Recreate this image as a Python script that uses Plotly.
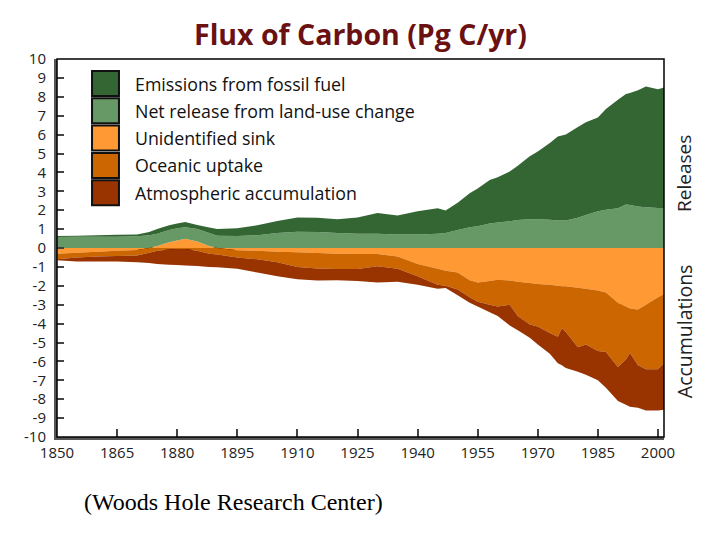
"""
flux of carbon stacked area chart
"""
import numpy as np
from plotly import graph_objects as go

years = [1850, 1855, 1860, 1865, 1870, 1873, 1875, 1878, 1880, 1882,
         1885, 1888, 1890, 1895, 1900, 1905, 1910, 1915, 1920, 1925,
         1930, 1935, 1940, 1945, 1947, 1950, 1953, 1955, 1958, 1960,
         1963, 1965, 1968, 1970, 1973, 1975, 1976, 1977, 1980, 1982,
         1985, 1987, 1990, 1992, 1993, 1995, 1997, 2000, 2002]

# releases (Pg C/yr)
fossil = [0.05, 0.05, 0.08, 0.1, 0.1, 0.17, 0.25, 0.25, 0.25, 0.28,
          0.22, 0.28, 0.35, 0.41, 0.52, 0.63, 0.76, 0.75, 0.72, 0.86,
          1.09, 1.0, 1.23, 1.35, 1.18, 1.45, 1.8, 2.0, 2.3, 2.4,
          2.63, 2.87, 3.33, 3.58, 4.05, 4.45, 4.5, 4.55, 4.8, 4.9,
          4.95, 5.33, 5.75, 5.85, 5.92, 6.15, 6.4, 6.28, 6.4]
land_use = [0.58, 0.6, 0.6, 0.6, 0.62, 0.68, 0.65, 0.65, 0.65, 0.61,
            0.65, 0.7, 0.65, 0.63, 0.68, 0.8, 0.86, 0.85, 0.8, 0.76,
            0.76, 0.72, 0.72, 0.75, 0.8, 0.95, 1.1, 1.15, 1.3, 1.35,
            1.42, 1.48, 1.52, 1.52, 1.5, 1.45, 1.45, 1.45, 1.6, 1.75,
            1.95, 2.02, 2.1, 2.3, 2.28, 2.2, 2.15, 2.12, 2.12]

# accumulations (negative = uptake)
unidentified = [-0.3, -0.25, -0.2, -0.15, -0.1, 0.0, 0.1, 0.3, 0.4, 0.49,
                0.35, 0.1, 0.0, -0.12, -0.15, -0.2, -0.23, -0.27, -0.3, -0.32,
                -0.32, -0.45, -0.85, -1.1, -1.2, -1.3, -1.7, -1.82, -1.75, -1.68,
                -1.72, -1.78, -1.85, -1.9, -1.95, -2.0, -2.02, -2.03, -2.1, -2.15,
                -2.25, -2.36, -2.9, -3.1, -3.2, -3.25, -3.0, -2.6, -2.4]
ocean = [-0.3, -0.25, -0.25, -0.27, -0.3, -0.25, -0.15, -0.08, -0.05, -0.05,
         -0.15, -0.3, -0.35, -0.38, -0.45, -0.55, -0.77, -0.81, -0.81, -0.79,
         -0.65, -0.65, -0.65, -0.85, -0.8, -0.9, -0.9, -1.03, -1.25, -1.42,
         -1.28, -1.82, -2.2, -2.25, -2.55, -2.7, -2.23, -2.42, -3.15, -2.95,
         -3.2, -3.14, -3.4, -2.8, -2.35, -2.95, -3.42, -3.82, -3.58]
atmosphere = [-0.05, -0.22, -0.27, -0.3, -0.35, -0.55, -0.7, -0.8, -0.85, -0.87,
              -0.8, -0.7, -0.67, -0.6, -0.7, -0.75, -0.66, -0.64, -0.59, -0.63,
              -0.85, -0.68, -0.45, -0.2, -0.12, -0.3, -0.3, -0.25, -0.4, -0.5,
              -1.1, -0.75, -0.7, -0.95, -1.1, -1.4, -1.95, -1.9, -1.3, -1.6,
              -1.55, -1.9, -1.8, -2.4, -2.85, -2.25, -2.18, -2.18, -2.56]

legend_names = ["Emissions from fossil fuel", "Net release from land-use change",
                "Unidentified sink", "Oceanic uptake", "Atmospheric accumulation"]
colors = ["#336633", "#669966", "#ff9933", "#cc6600", "#993300"]

x_ticks = list(range(1850, 2001, 15))
y_ticks = list(range(-10, 11))
y_tick_labels = [str(v) for v in y_ticks]

unid = np.array(unidentified)
unid_pos = np.clip(unid, 0, None)   # the sink turns into a small source around 1880
unid_neg = np.clip(unid, None, 0)

fig = go.Figure()
# positive side
fig.add_trace(go.Scatter(x=years, y=unid_pos, stackgroup="pos", line=dict(width=0),
                         fillcolor=colors[2], mode="none", name=legend_names[2]))
fig.add_trace(go.Scatter(x=years, y=land_use, stackgroup="pos", line=dict(width=0),
                         fillcolor=colors[1], mode="none", name=legend_names[1]))
fig.add_trace(go.Scatter(x=years, y=fossil, stackgroup="pos", line=dict(width=0),
                         fillcolor=colors[0], mode="none", name=legend_names[0]))
# negative side
fig.add_trace(go.Scatter(x=years, y=unid_neg, stackgroup="neg", line=dict(width=0),
                         fillcolor=colors[2], mode="none", name=legend_names[2]))
fig.add_trace(go.Scatter(x=years, y=ocean, stackgroup="neg", line=dict(width=0),
                         fillcolor=colors[3], mode="none", name=legend_names[3]))
fig.add_trace(go.Scatter(x=years, y=atmosphere, stackgroup="neg", line=dict(width=0),
                         fillcolor=colors[4], mode="none", name=legend_names[4]))

# page body has an 8px margin, so the figure is a bit smaller than the window
fig.update_layout(width=712, height=532, showlegend=False,
                  margin=dict(l=49, r=56, t=51, b=103),
                  plot_bgcolor="white", paper_bgcolor="white",
                  font=dict(family="Open Sans", size=15, color="#222222"))

fig.update_xaxes(range=[1850, 2001.5], tickvals=x_ticks, ticks="inside", ticklen=8,
                 tickwidth=2, tickcolor="#444444", showline=True, linewidth=3,
                 linecolor="#555555", showgrid=False, zeroline=False,
                 layer="above traces", tickfont=dict(size=15, color="#222222"))
fig.update_yaxes(range=[-10, 10], tickvals=y_ticks, ticktext=y_tick_labels,
                 ticks="inside", ticklen=7, tickwidth=2, tickcolor="#444444",
                 showline=True, linewidth=3, linecolor="#555555", showgrid=False,
                 zeroline=True, zerolinecolor="black", zerolinewidth=2.5,
                 layer="above traces", ticklabelstandoff=5,
                 tickfont=dict(size=15, color="#222222"))

# thin frame on top and right
fig.add_shape(type="rect", xref="paper", yref="paper", x0=0, x1=1, y0=0, y1=1,
              line=dict(color="black", width=1.5), layer="above")

# hand-made legend with big boxes
for i, (name, col) in enumerate(zip(legend_names, colors)):
    top = 71 + 27.3 * i
    y0 = (437 - (top + 25)) / 378
    y1 = (437 - top) / 378
    fig.add_shape(type="rect", xref="paper", yref="paper", x0=0.0577, x1=0.1021,
                  y0=y0, y1=y1, fillcolor=col, line=dict(color="#111111", width=2))
    fig.add_annotation(text=name, xref="paper", yref="paper", x=0.125, y=(y0 + y1) / 2,
                       xanchor="left", yanchor="middle", showarrow=False,
                       font=dict(size=17.8, color="#111111"))

fig.add_annotation(text="<b>Flux of Carbon (Pg C/yr)</b>", xref="paper", yref="paper",
                   x=0.5, y=1.066, xanchor="center", yanchor="middle", showarrow=False,
                   font=dict(size=28.5, color="#6b1111"))
fig.add_annotation(text="Releases", xref="paper", yref="paper", x=1.033, y=0.696,
                   textangle=-90, showarrow=False, xanchor="center", yanchor="middle",
                   font=dict(size=19, color="#222222"))
fig.add_annotation(text="Accumulations", xref="paper", yref="paper", x=1.033, y=0.28,
                   textangle=-90, showarrow=False, xanchor="center", yanchor="middle",
                   font=dict(size=19.5, color="#222222"))
fig.add_annotation(text="(Woods Hole Research Center)", xref="paper", yref="paper",
                   x=0.29, y=-0.172, showarrow=False, xanchor="center", yanchor="middle",
                   font=dict(family="Liberation Serif", size=24, color="black"))

fig.write_html("out.html")
